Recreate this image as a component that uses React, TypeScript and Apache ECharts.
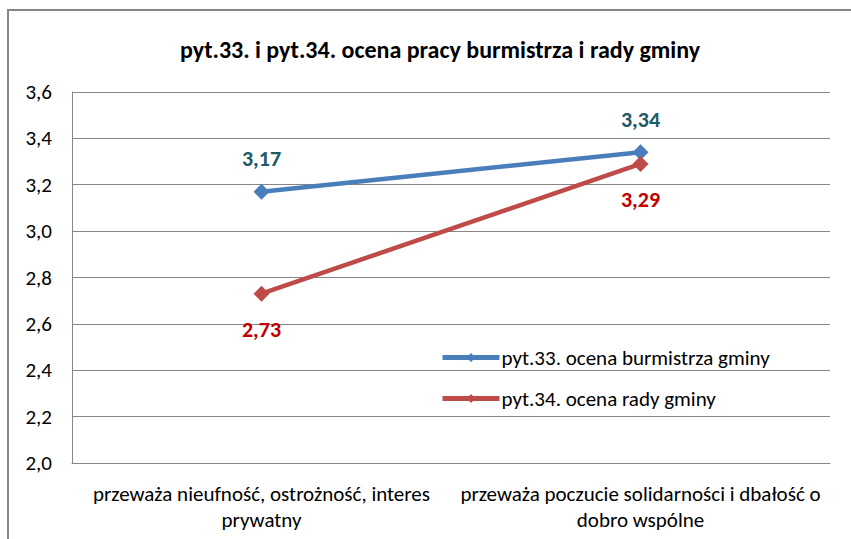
import React, { useEffect, useRef } from "react";
import * as echarts from "echarts";

const categories = [
  "przeważa nieufność, ostrożność, interes\nprywatny",
  "przeważa poczucie solidarności i dbałość o\ndobro wspólne",
];
const seriesNames = ["pyt.33. ocena burmistrza gminy", "pyt.34. ocena rady gminy"];
const burmistrz = [3.17, 3.34];
const rada = [2.73, 3.29];
const yTicks = { min: 2.0, max: 3.6, interval: 0.2 };

const FONT = "Carlito, Lato, 'Open Sans', sans-serif";

export default function App() {
  const ref = useRef<HTMLDivElement>(null);
  useEffect(() => {
    if (!ref.current) return;
    const chart = echarts.init(ref.current, undefined, { renderer: "svg" });
    const fmt = (v: number) => v.toFixed(2).replace(".", ",");
    chart.setOption({
      animation: false,
      backgroundColor: "#ffffff",
      textStyle: { fontFamily: FONT },
      title: {
        text: "pyt.33. i pyt.34. ocena pracy burmistrza i rady gminy",
        left: 435,
        textAlign: "center",
        top: 32,
        textStyle: { fontFamily: FONT, fontSize: 24, fontWeight: "bold", color: "#000" },
      },
      graphic: [
        {
          type: "rect",
          shape: { x: 8, y: 10, width: 900, height: 600 },
          style: { fill: "none", stroke: "#868686", lineWidth: 2 },
          silent: true,
          z: -1,
        },
      ],
      grid: { left: 72, right: 21, top: 92, bottom: 76, containLabel: false },
      legend: {
        orient: "vertical",
        left: 440,
        top: 347,
        padding: 0,
        itemWidth: 57,
        itemHeight: 11,
        itemGap: 20,
        lineStyle: { width: 5 },
        textStyle: { fontFamily: FONT, fontSize: 21, color: "#000", padding: [0, 0, 0, -3] },
        data: seriesNames,
      },
      xAxis: {
        type: "category",
        data: categories,
        boundaryGap: true,
        axisLine: { lineStyle: { color: "#868686", width: 1 } },
        axisTick: { show: false },
        axisLabel: {
          fontFamily: FONT,
          fontSize: 21,
          color: "#000",
          margin: 18,
          lineHeight: 26,
          interval: 0,
        },
      },
      yAxis: {
        type: "value",
        min: yTicks.min,
        max: yTicks.max,
        interval: yTicks.interval,
        axisLine: { show: true, lineStyle: { color: "#868686", width: 1 } },
        axisTick: { show: false },
        splitLine: { lineStyle: { color: "#868686", width: 1 } },
        axisLabel: {
          fontFamily: FONT,
          fontSize: 21,
          color: "#000",
          margin: 20,
          formatter: (v: number) => v.toFixed(1).replace(".", ","),
        },
      },
      series: [
        {
          name: seriesNames[0],
          type: "line",
          data: burmistrz,
          symbol: "diamond",
          symbolSize: 16,
          lineStyle: { color: "#4A7EBB", width: 4.5 },
          itemStyle: { color: "#4A7EBB" },
          label: {
            show: true,
            position: "top",
            distance: 14,
            fontFamily: FONT,
            fontSize: 22,
            fontWeight: "bold",
            color: "#215968",
            formatter: (p: any) => fmt(p.value),
          },
        },
        {
          name: seriesNames[1],
          type: "line",
          data: rada,
          symbol: "diamond",
          symbolSize: 16,
          lineStyle: { color: "#BE4B48", width: 4.5 },
          itemStyle: { color: "#BE4B48" },
          label: {
            show: true,
            position: "bottom",
            distance: 17,
            fontFamily: FONT,
            fontSize: 22,
            fontWeight: "bold",
            color: "#C00000",
            formatter: (p: any) => fmt(p.value),
          },
        },
      ],
    });
    return () => chart.dispose();
  }, []);
  return (
    <div
      ref={ref}
      style={{ position: "fixed", left: 0, top: 0, width: 851, height: 539 }}
    />
  );
}
